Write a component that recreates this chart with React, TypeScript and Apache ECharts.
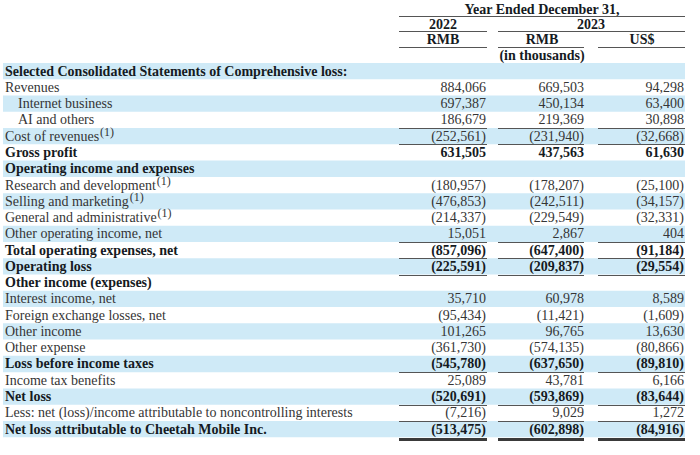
import React, { useEffect, useRef } from "react";
import * as echarts from "echarts";

// ---- Data ----
const yearHeader = "Year Ended December 31,";
const yearLabels = ["2022", "2023"];
const currencyLabels = ["RMB", "RMB", "US$"];
const unitNote = "(in thousands)";

const rowLabels = [
  "Selected Consolidated Statements of Comprehensive loss:",
  "Revenues",
  "Internet business",
  "AI and others",
  "Cost of revenues",
  "Gross profit",
  "Operating income and expenses",
  "Research and development",
  "Selling and marketing",
  "General and administrative",
  "Other operating income, net",
  "Total operating expenses, net",
  "Operating loss",
  "Other income (expenses)",
  "Interest income, net",
  "Foreign exchange losses, net",
  "Other income",
  "Other expense",
  "Loss before income taxes",
  "Income tax benefits",
  "Net loss",
  "Less: net (loss)/income attributable to noncontrolling interests",
  "Net loss attributable to Cheetah Mobile Inc.",
];

const values2022Rmb: (number | null)[] = [
  null, 884066, 697387, 186679, -252561, 631505, null, -180957, -476853, -214337,
  15051, -857096, -225591, null, 35710, -95434, 101265, -361730, -545780, 25089,
  -520691, -7216, -513475,
];
const values2023Rmb: (number | null)[] = [
  null, 669503, 450134, 219369, -231940, 437563, null, -178207, -242511, -229549,
  2867, -647400, -209837, null, 60978, -11421, 96765, -574135, -637650, 43781,
  -593869, 9029, -602898,
];
const values2023Usd: (number | null)[] = [
  null, 94298, 63400, 30898, -32668, 61630, null, -25100, -34157, -32331,
  404, -91184, -29554, null, 8589, -1609, 13630, -80866, -89810, 6166,
  -83644, 1272, -84916,
];

const boldRows = [0, 5, 6, 11, 12, 13, 18, 20, 22];
const indentRows = [2, 3];
const noteRows = [4, 7, 8, 9];
const noteMark = "(1)";
const underlineRows = [3, 4, 10, 11, 12, 18, 20, 21];
const doubleUnderlineRows = [22];

// ---- Layout / style ----
const FONT = "'Liberation Serif', 'Times New Roman', serif";
const FS = 14;
const ROW_TOP = 63;
const ROW_H = 16.27;
const STRIPE = "#cfeaf7";
const COL_RIGHT = [486, 584, 684];
const COL_LINE = [
  [399, 487],
  [498, 584],
  [598, 685],
];
const REG_COLOR = "#353535";
const BOLD_COLOR = "#151a22";
const LINE_COLOR = "#555555";

function fmt(v: number): string {
  const s = Math.abs(v).toLocaleString("en-US");
  return v < 0 ? `(${s})` : s;
}

function buildGraphics() {
  const els: any[] = [];
  const cy = (i: number) => ROW_TOP + ROW_H * (i + 0.5);

  // stripes
  rowLabels.forEach((_, i) => {
    if (i % 2 === 0) {
      els.push({
        type: "rect",
        shape: { x: 3, y: ROW_TOP + ROW_H * i, width: 682, height: ROW_H },
        style: { fill: STRIPE },
        silent: true,
      });
    }
  });

  const headText = (text: string, x: number, y: number) => ({
    type: "text",
    x,
    y,
    style: {
      text,
      font: `bold ${FS}px ${FONT}`,
      fill: BOLD_COLOR,
      align: "center",
      verticalAlign: "middle",
    },
  });
  const hLine = (x1: number, x2: number, y: number, w = 1, c = LINE_COLOR) => ({
    type: "line",
    shape: { x1, y1: y, x2, y2: y },
    style: { stroke: c, lineWidth: w },
    silent: true,
  });

  // header
  els.push(headText(yearHeader, 542, 9));
  els.push(hLine(399, 685, 16.5));
  els.push(headText(yearLabels[0], 443, 24));
  els.push(headText(yearLabels[1], 591, 24));
  els.push(hLine(399, 487, 31.5));
  els.push(hLine(498, 685, 31.5));
  const curX = [443, 542, 642];
  currencyLabels.forEach((c, k) => els.push(headText(c, curX[k], 39.5)));
  COL_LINE.forEach(([a, b]) => els.push(hLine(a, b, 47.5)));
  els.push(headText(unitNote, 542, 55));

  const columns = [values2022Rmb, values2023Rmb, values2023Usd];

  rowLabels.forEach((label, i) => {
    const bold = boldRows.includes(i);
    const color = bold ? BOLD_COLOR : REG_COLOR;
    const weight = bold ? "bold" : "normal";
    const x = indentRows.includes(i) ? 18 : 5;
    const hasNote = noteRows.includes(i);
    els.push({
      type: "text",
      x,
      y: cy(i),
      style: {
        text: hasNote ? `{m|${label}}{s|${noteMark}}` : `{m|${label}}`,
        align: "left",
        verticalAlign: "middle",
        rich: {
          m: { fontFamily: FONT, fontSize: FS, fontWeight: weight, fill: color, color },
          s: {
            fontFamily: FONT,
            fontSize: 12,
            fill: color,
            color,
            padding: [0, 0, 9, 1],
          },
        },
      },
    });

    columns.forEach((col, k) => {
      const v = col[i];
      if (v === null || v === undefined) return;
      els.push({
        type: "text",
        x: COL_RIGHT[k],
        y: cy(i),
        style: {
          text: fmt(v),
          font: `${weight} ${FS}px ${FONT}`,
          fill: color,
          align: "right",
          verticalAlign: "middle",
        },
      });
    });

    if (underlineRows.includes(i)) {
      const y = ROW_TOP + ROW_H * (i + 1);
      COL_LINE.forEach(([a, b]) => els.push(hLine(a, b, Math.round(y) + 0.5)));
    }
    if (doubleUnderlineRows.includes(i)) {
      const y = ROW_TOP + ROW_H * (i + 1);
      COL_LINE.forEach(([a, b]) =>
        els.push({
          type: "rect",
          shape: { x: a, y: Math.round(y) + 1, width: b - a, height: 3 },
          style: { fill: "#3a3a3a" },
          silent: true,
        })
      );
    }
  });

  return els;
}

export default function App() {
  const ref = useRef<HTMLDivElement>(null);
  useEffect(() => {
    if (!ref.current) return;
    const chart = echarts.init(ref.current, null, { renderer: "svg" });
    chart.setOption({
      animation: false,
      backgroundColor: "#ffffff",
      graphic: { elements: buildGraphics() },
    });
    return () => chart.dispose();
  }, []);
  return (
    <div
      ref={ref}
      style={{ position: "fixed", left: 0, top: 0, width: 700, height: 455, background: "#fff" }}
    />
  );
}
